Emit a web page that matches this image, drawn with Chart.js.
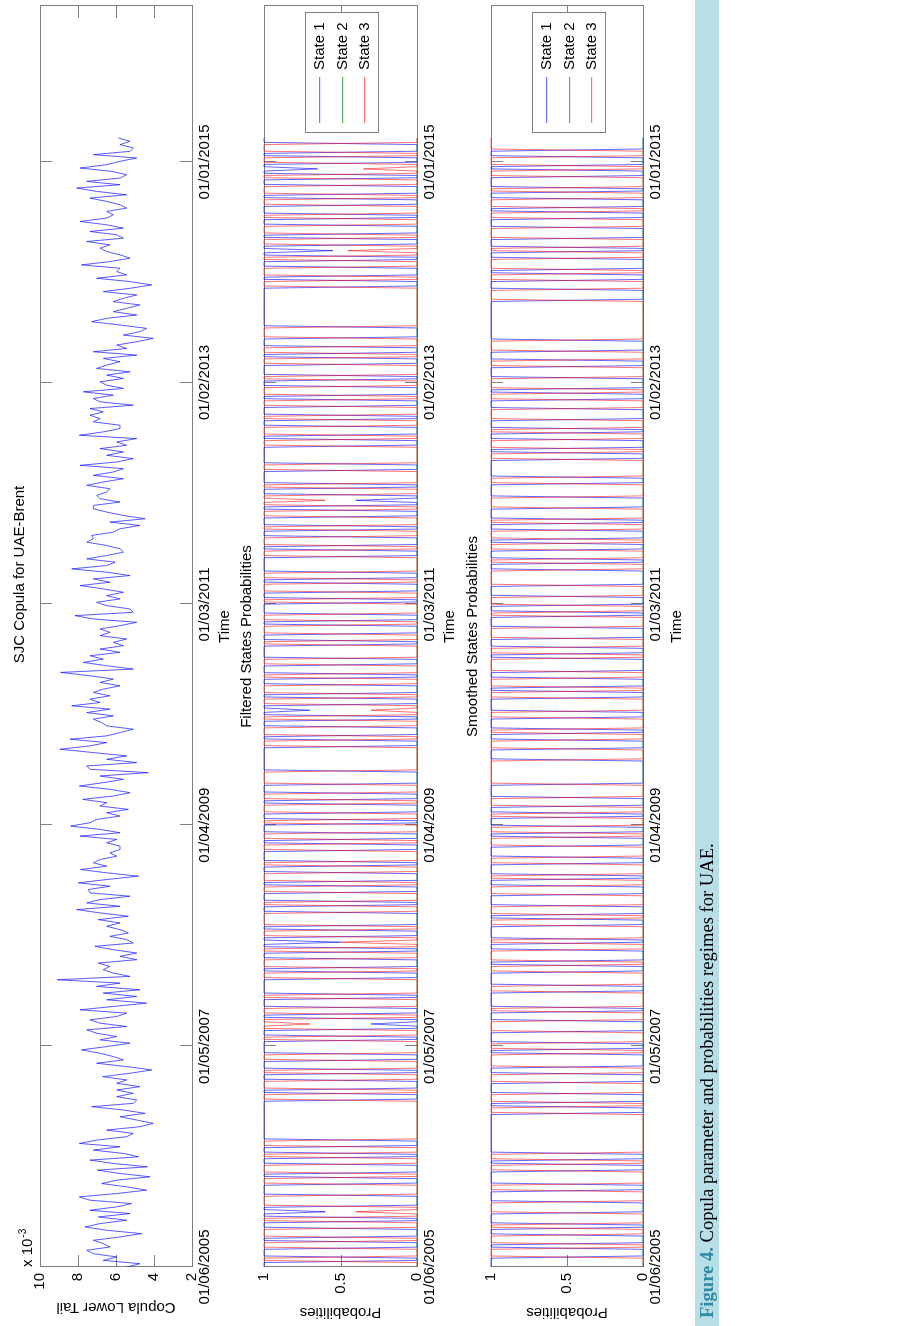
<!DOCTYPE html>
<html>
<head>
<meta charset="utf-8">
<script src="https://cdn.jsdelivr.net/npm/chart.js@4.4.1/dist/chart.umd.min.js"></script>
<style>
html,body{margin:0;padding:0;background:#fff;}
body{width:903px;height:1326px;overflow:hidden;position:relative;}
#fig{position:absolute;left:0;top:0;width:1326px;height:903px;transform-origin:0 0;transform:translateY(1326px) rotate(-90deg);}
canvas{position:absolute;left:0;}
#caption{position:absolute;left:0;top:695px;width:1326px;height:24px;background:#b8dee8;font-family:'Liberation Serif','Times New Roman',serif;font-size:18.6px;line-height:24px;color:#000;white-space:nowrap;}
#caption span.lbl{color:#2f8aa3;font-weight:bold;margin-left:8px;}
</style>
</head>
<body>
<div id="fig">
  <canvas id="c1" width="1326" height="240" style="top:0px"></canvas>
  <canvas id="c2" width="1326" height="237" style="top:228px"></canvas>
  <canvas id="c3" width="1326" height="236" style="top:455px"></canvas>
  <div id="caption"><span class="lbl">Figure 4.</span> Copula parameter and probabilities regimes for UAE.</div>
</div>
<script>
// ---------------- DATA ----------------
const timeTickLabels = ['01/06/2005','01/05/2007','01/04/2009','01/03/2011','01/02/2013','01/01/2015'];
const timeTickISO    = ['2005-06-01','2007-05-01','2009-04-01','2011-03-01','2013-02-01','2015-01-01'];
const seriesStartISO = '2005-06-01';
const seriesEndISO   = '2015-03-18';
const axisEndISO     = '2016-05-09';

// SJC copula lower tail dependence (x 10^-3), evenly spaced in time
const copulaLowerTail = [
5.44,4.74,6.67,5.96,7.19,7.54,6.32,6.67,7.19,5.79,
4.65,6.49,7.63,6.84,5.44,6.93,5.26,7.37,5.96,5.18,
7.37,7.93,5.96,4.39,5.44,6.75,5.96,4.21,5.79,6.98,
4.35,6.14,7.37,4.81,5.61,7.19,5.79,7.93,7.02,5.44,
5.09,6.49,4.74,4.04,4.91,5.79,4.47,5.61,7.28,5.09,
4.91,5.96,5.09,5.96,4.74,5.96,5.44,6.70,5.26,4.12,
5.44,7.02,5.61,6.14,6.84,7.81,6.49,5.26,6.84,5.96,
7.02,7.54,5.44,6.84,7.37,5.96,5.44,7.89,6.14,4.39,
6.49,4.91,6.67,4.74,7.02,5.79,9.09,5.26,6.14,6.67,
6.32,6.93,4.91,5.79,4.91,6.14,7.11,5.09,5.44,6.32,
5.35,5.79,6.49,5.79,6.93,5.35,6.84,8.07,5.79,7.54,
6.84,5.26,7.37,7.46,6.32,7.98,
6.49,4.82,6.49,7.86,6.49,7.19,6.84,5.96,6.32,5.79,
5.79,6.49,5.96,7.89,5.79,6.84,8.39,7.37,7.02,5.79,
6.49,5.35,6.84,6.49,7.75,6.14,5.26,6.32,7.93,6.67,
5.61,6.84,4.30,7.37,7.54,4.91,6.49,5.44,7.19,8.95,
7.37,6.49,8.42,6.49,5.79,5.09,6.49,6.75,7.19,6.14,
7.54,6.32,8.33,6.84,7.37,6.32,7.19,6.67,5.79,6.84,
6.14,7.37,8.91,5.09,6.49,7.72,6.67,7.37,5.79,6.84,
5.61,6.14,5.44,6.84,6.32,6.84,5.79,4.91,7.19,8.16,
5.09,5.26,6.49,7.02,5.79,6.49,5.61,6.67,7.89,6.32,
7.19,5.26,6.49,8.33,6.49,6.05,7.54,6.49,5.61,5.79,
6.49,7.54,7.19,7.28,6.14,5.79,4.74,6.32,4.47,5.61,
6.49,7.19,
7.19,5.79,6.84,7.02,6.49,6.32,7.54,6.67,5.61,7.19,
6.14,5.61,7.89,5.96,5.09,6.49,5.61,6.84,5.44,5.96,
4.91,7.93,6.67,5.79,5.79,7.19,6.84,7.37,6.67,7.37,
5.09,6.84,7.19,6.14,7.72,5.61,6.49,6.84,5.61,6.49,
5.26,7.02,6.49,5.79,6.67,4.91,7.19,5.44,5.96,4.91,
4.04,5.61,4.74,4.39,5.79,7.28,6.49,4.91,6.14,5.44,
4.74,6.14,5.61,4.91,6.67,5.26,4.12,5.26,7.02,5.44,
5.96,5.79,7.81,6.32,5.26,5.79,6.49,6.84,6.32,7.54,
5.61,5.96,7.37,5.61,6.49,7.89,6.49,6.14,6.49,5.44,
5.79,6.49,7.37,5.44,7.02,8.07,5.79,7.54,5.79,5.44,
6.23,7.89,6.49,5.79,4.91,7.19,5.26,5.09,5.79,5.26,
5.88
];

// Weekly regime probabilities: run lengths (weeks) and the probability of each state during every run
const filteredRunWeeks = [
3,2,4,3,2,4,3,2,2,1,2,5,
5,3,2,4,3,2,3,3,18,3,
2,4,3,2,4,3,6,2,3,2,1,2,
2,3,4,2,7,3,2,4,3,2,
2,1,2,3,2,6,3,2,4,3,2,4,
3,2,5,3,2,3,4,2,3,4,
2,3,4,6,11,3,2,4,3,2,
2,1,2,3,2,4,3,2,4,3,6,2,
3,4,2,3,5,2,3,4,2,3,
7,3,2,4,3,2,4,3,2,2,1,2,
3,2,6,3,8,3,2,4,3,2,
4,3,2,4,3,2,5,3,2,3,
4,5,18,3,2,4,3,2,2,1,2,3,
2,4,3,2,4,3,2,4,3,2,
2,1,2,3,2,4,3];
const filteredState1 = [
1,0,1,0,1,0,1,0,1,0.6,1,0,
1,0,1,0,1,0,1,0,1,0,
1,0,1,0,1,0,1,0,1,0,0.3,0,
1,0,1,0,1,0,1,0,1,0,
1,0.5,1,0,1,0,1,0,1,0,1,0,
1,0,1,0,1,0,1,0,1,0,
1,0,1,0,1,0,1,0,1,0,
1,0.7,1,0,1,0,1,0,1,0,1,0,
1,0,1,0,1,0,1,0,1,0,
1,0,1,0,1,0,1,0,1,0,0.4,0,
1,0,1,0,1,0,1,0,1,0,
1,0,1,0,1,0,1,0,1,0,
1,0,1,0,1,0,1,0,1,0.55,1,0,
1,0,1,0,1,0,1,0,1,0,
1,0.65,1,0,1,0,1];
const filteredState3 = [
0,1,0,1,0,1,0,1,0,0.4,0,1,
0,1,0,1,0,1,0,1,0,1,
0,1,0,1,0,1,0,1,0,1,0.7,1,
0,1,0,1,0,1,0,1,0,1,
0,0.5,0,1,0,1,0,1,0,1,0,1,
0,1,0,1,0,1,0,1,0,1,
0,1,0,1,0,1,0,1,0,1,
0,0.3,0,1,0,1,0,1,0,1,0,1,
0,1,0,1,0,1,0,1,0,1,
0,1,0,1,0,1,0,1,0,1,0.6,1,
0,1,0,1,0,1,0,1,0,1,
0,1,0,1,0,1,0,1,0,1,
0,1,0,1,0,1,0,1,0,0.45,0,1,
0,1,0,1,0,1,0,1,0,1,
0,0.35,0,1,0,1,0];
const smoothedRunWeeks = [
5,4,2,4,3,2,5,5,5,3,
6,3,2,3,18,3,2,4,5,4,
3,6,2,3,5,5,4,2,7,3,
6,3,2,5,3,2,6,3,2,4,
5,4,3,2,5,3,5,4,2,3,
4,2,3,4,6,11,5,4,3,2,
5,3,6,3,2,4,3,6,2,3,
4,5,5,2,3,4,5,7,3,2,
4,3,2,4,3,2,5,5,6,3,
8,3,2,4,3,2,4,5,4,3,
2,5,5,3,4,5,18,5,4,3,
2,5,3,2,4,5,4,3,2,4,
3,2,5,3,2,4,3,6];
const smoothedState1 = [
1,0,1,0,1,0,1,0,1,0, 1,0,1,0,1,0,1,0,1,0, 1,0,1,0,1,0,1,0,1,0, 1,0,1,0,1,0,1,0,1,0,
1,0,1,0,1,0,1,0,1,0, 1,0,1,0,1,0,1,0,1,0, 1,0,1,0,1,0,1,0,1,0, 1,0,1,0,1,0,1,0,1,0,
1,0,1,0,1,0,1,0,1,0, 1,0,1,0,1,0,1,0,1,0, 1,0,1,0,1,0,1,0,1,0, 1,0,1,0,1,0,1,0,1,0,
1,0,1,0,1,0,1,0];
const smoothedState3 = [
0,1,0,1,0,1,0,1,0,1, 0,1,0,1,0,1,0,1,0,1, 0,1,0,1,0,1,0,1,0,1, 0,1,0,1,0,1,0,1,0,1,
0,1,0,1,0,1,0,1,0,1, 0,1,0,1,0,1,0,1,0,1, 0,1,0,1,0,1,0,1,0,1, 0,1,0,1,0,1,0,1,0,1,
0,1,0,1,0,1,0,1,0,1, 0,1,0,1,0,1,0,1,0,1, 0,1,0,1,0,1,0,1,0,1, 0,1,0,1,0,1,0,1,0,1,
0,1,0,1,0,1,0,1];
const state2RunWeeks = [512];
const state2Values = [0];
const stateLabels = ['State 1','State 2','State 3'];
const panelTitles = ['SJC Copula for UAE-Brent','Filtered States Probabilities','Smoothed States Probabilities'];

// ---------------- HELPERS ----------------
const DAY = 86400000;
const dayOf = iso => (Date.parse(iso + 'T00:00:00Z') - Date.parse(seriesStartISO + 'T00:00:00Z')) / DAY;
const tickDays = timeTickISO.map(dayOf);
const endDay = dayOf(seriesEndISO);
const axisMax = dayOf(axisEndISO);
const expandRuns = (weeks, vals) => { const out = []; weeks.forEach((n, r) => { for (let k = 0; k < n; k++) out.push(vals[r]); }); return out; };
const toPoints = (vals, stepDays) => vals.map((v, i) => ({x: i * stepDays, y: v}));

const FONT = "'Liberation Sans', Arial, Helvetica, sans-serif";
Chart.defaults.font.family = FONT;
Chart.defaults.font.size = 15;
Chart.defaults.color = '#000';
const AXIS_COLOR = '#808080';
const TICK_LEN = 12;

const framePlugin = {
  id: 'frame',
  beforeDatasetsDraw(chart) {
    const {ctx, chartArea: a, scales} = chart;
    ctx.save();
    ctx.strokeStyle = AXIS_COLOR;
    ctx.lineWidth = 1;
    ctx.beginPath();
    scales.x.ticks.forEach(t => {
      const p = Math.round(scales.x.getPixelForValue(t.value)) + 0.5;
      ctx.moveTo(p, a.bottom); ctx.lineTo(p, a.bottom - TICK_LEN);
      ctx.moveTo(p, a.top); ctx.lineTo(p, a.top + TICK_LEN);
    });
    scales.y.ticks.forEach(t => {
      const p = Math.round(scales.y.getPixelForValue(t.value)) + 0.5;
      ctx.moveTo(a.left, p); ctx.lineTo(a.left + TICK_LEN, p);
      ctx.moveTo(a.right, p); ctx.lineTo(a.right - TICK_LEN, p);
    });
    ctx.stroke();
    ctx.strokeRect(Math.round(a.left) + 0.5, Math.round(a.top) + 0.5, Math.round(a.right - a.left), Math.round(a.bottom - a.top));
    ctx.restore();
  }
};

const labelsPlugin = {
  id: 'panelLabels',
  afterDraw(chart, args, opts) {
    const {ctx, chartArea: a} = chart;
    const cx = (a.left + a.right) / 2;
    ctx.save();
    ctx.fillStyle = '#000';
    ctx.font = '15px ' + FONT;
    ctx.textAlign = 'center';
    ctx.textBaseline = 'middle';
    ctx.fillText(opts.title, cx + opts.titleShift, a.top - opts.titleGap);
    ctx.fillText('Time', cx + 10, a.bottom + opts.timeGap);
    if (opts.exponent) {
      ctx.textAlign = 'left';
      ctx.textBaseline = 'alphabetic';
      ctx.font = '15px ' + FONT;
      ctx.fillText('x 10', a.left, a.top - 8);
      const w = ctx.measureText('x 10').width;
      ctx.font = '10px ' + FONT;
      ctx.fillText('-3', a.left + w + 1, a.top - 14);
    }
    ctx.restore();
  }
};

const legendColors = ['#7474ff', '#5fae5f', '#ff7474'];
const legendBoxPlugin = {
  id: 'legendBox',
  afterDraw(chart) {
    if (chart.data.datasets.length < 3) return;
    const {ctx, chartArea: a} = chart;
    const w = 120, h = 73;
    const x0 = Math.round(a.right - 7 - w), y0 = Math.round(a.top + 41);
    ctx.save();
    ctx.fillStyle = '#fff';
    ctx.fillRect(x0, y0, w, h);
    ctx.strokeStyle = AXIS_COLOR;
    ctx.lineWidth = 1;
    ctx.strokeRect(x0 + 0.5, y0 + 0.5, w, h);
    ctx.font = '15px ' + FONT;
    ctx.textBaseline = 'middle';
    ctx.textAlign = 'left';
    chart.data.datasets.forEach((ds, i) => {
      const y = Math.round(y0 + 14 + i * 22.5);
      ctx.fillStyle = legendColors[i];
      ctx.fillRect(x0 + 10, y, 46, 1.2);
      ctx.fillStyle = '#000';
      ctx.fillText(ds.label, x0 + 63, y + 1);
    });
    ctx.restore();
  }
};

function baseOptions(o) {
  return {
    responsive: false, animation: false, events: [],
    layout: {padding: {left: 0, right: 6, top: o.padTop, bottom: 0}},
    plugins: {
      legend: {display: false}, tooltip: {enabled: false}, title: {display: false},
      panelLabels: {title: o.title, titleShift: o.titleShift, titleGap: o.titleGap, timeGap: o.timeGap, exponent: !!o.exponent}
    },
    scales: {
      x: {
        type: 'linear', min: 0, max: axisMax,
        afterBuildTicks: s => { s.ticks = tickDays.map(v => ({value: v})); },
        afterFit: s => { s.height = 48; },
        ticks: {autoSkip: false, maxRotation: 0, minRotation: 0, padding: 4, callback: (v, i) => timeTickLabels[i], color: '#000'},
        grid: {display: false, drawTicks: false}, border: {display: false}
      },
      y: {
        min: o.ymin, max: o.ymax,
        afterFit: s => { s.width = 59; },
        ticks: {stepSize: o.step, padding: 6, color: '#000', callback: v => String(v)},
        grid: {display: false, drawTicks: false}, border: {display: false},
        title: {display: true, text: o.ytitle, color: '#000', font: {size: 15}, padding: {top: o.ytitlePad, bottom: 0}}
      }
    }
  };
}

// Panel 1: copula
const copStep = endDay / (copulaLowerTail.length - 1);
new Chart(document.getElementById('c1'), {
  type: 'line',
  data: {datasets: [{label: 'SJC', data: toPoints(copulaLowerTail, copStep), borderColor: 'rgba(20,20,255,0.7)', borderWidth: 1, pointRadius: 0, tension: 0}]},
  options: baseOptions({title: panelTitles[0], titleShift: 62, titleGap: 20, timeGap: 33, padTop: 40, exponent: true, ymin: 2, ymax: 10, step: 2, ytitle: 'Copula Lower Tail', ytitlePad: 10}),
  plugins: [framePlugin, labelsPlugin]
});

function probChart(id, title, weeks, s1, s3, padTop, titleGap, timeGap) {
  const mk = (vals, label, color, order) => ({label, data: toPoints(vals, 7), borderColor: color, borderWidth: 1, pointRadius: 0, tension: 0, clip: false, order});
  new Chart(document.getElementById(id), {
    type: 'line',
    data: {datasets: [
      mk(expandRuns(weeks, s1), stateLabels[0], 'rgba(0,0,255,0.6)', 3),
      mk(expandRuns(state2RunWeeks, state2Values), stateLabels[1], 'rgba(0,150,0,0.55)', 2),
      mk(expandRuns(weeks, s3), stateLabels[2], 'rgba(255,0,0,0.55)', 1)
    ]},
    options: baseOptions({title, titleShift: 0, titleGap, timeGap, padTop, ymin: 0, ymax: 1, step: 0.5, ytitle: 'Probabilities', ytitlePad: 5}),
    plugins: [framePlugin, labelsPlugin, legendBoxPlugin]
  });
}
probChart('c2', panelTitles[1], filteredRunWeeks, filteredState1, filteredState3, 36, 17, 33);
probChart('c3', panelTitles[2], smoothedRunWeeks, smoothedState1, smoothedState3, 36, 18, 34);
</script>
</body>
</html>
